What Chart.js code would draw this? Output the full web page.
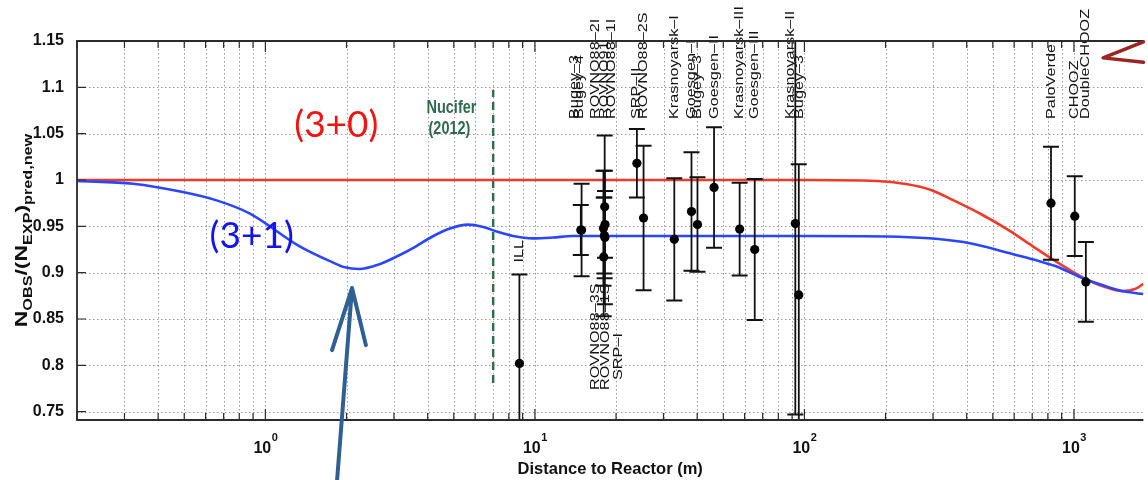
<!DOCTYPE html>
<html>
<head>
<meta charset="utf-8">
<script src="https://cdn.jsdelivr.net/npm/chart.js@4.4.1/dist/chart.umd.min.js"></script>
<style>
  html, body { margin: 0; padding: 0; background: #fff; overflow: hidden; }
  #wrap { width: 1148px; height: 480px; }
</style>
</head>
<body>
<div id="wrap"><canvas id="chart" width="1148" height="480"></canvas></div>
<script>
// reactor experiments: name, baseline (m), ratio, total error
const expNames = ["ILL", "Bugey–4", "Bugey–3", "ROVNO88–2I", "ROVNO91", "ROVNO88–1I",
  "ROVNO88–3S", "ROVNO88–1S", "SRP–I", "SRP–II", "ROVNO88–2S", "Krasnoyarsk–I",
  "Goesgen–I", "Bugey–3", "Goesgen–II", "Krasnoyarsk–III", "Goesgen–III",
  "Krasnoyarsk–II", "Bugey–3", "PaloVerde", "CHOOZ", "DoubleCHOOZ"];
const expDistance = [8.76, 14.8, 14.9, 17.96, 18.1, 18.0, 18.18, 18.15, 18.2, 23.9, 25.3, 32.9,
  38.1, 40.1, 46.2, 57.5, 65.4, 92.5, 95.3, 822, 1007, 1107];
const expRatio = [0.802, 0.946, 0.946, 0.948, 0.940, 0.917, 0.938, 0.971, 0.952, 1.018, 0.959, 0.936,
  0.966, 0.952, 0.992, 0.947, 0.925, 0.953, 0.876, 0.975, 0.961, 0.890];
const expError = [0.096, 0.027, 0.050, 0.062, 0.041, 0.064, 0.072, 0.077, 0.036, 0.037, 0.078, 0.066,
  0.064, 0.051, 0.065, 0.050, 0.076, 0.206, 0.141, 0.061, 0.043, 0.043];

// (3+0) and (3+1) predictions
const curve30Distance = [0.2, 100, 185, 238, 295, 355, 451, 572, 702, 853, 1073, 1272, 1508, 1684, 1810];
const curve30Ratio = [1.0, 1.0, 0.999, 0.9957, 0.9892, 0.9784, 0.9633, 0.946, 0.9287, 0.9125, 0.8952,
  0.8855, 0.8801, 0.8823, 0.888];
const curve31Distance = [0.2, 0.323, 0.494, 0.659, 0.873, 1.335, 1.767, 1.957, 2.223, 2.636, 3.124, 3.61,
  4.136, 4.778, 5.662, 6.433, 7.308, 8.3, 9.84, 11.66, 13.82, 20.3, 100, 202, 389, 592, 720, 853,
  1073, 1272, 1508, 1810];
const curve31Ratio = [0.999, 0.996, 0.987, 0.978, 0.964, 0.9287, 0.9114, 0.906, 0.9039, 0.9088, 0.9185,
  0.9282, 0.9385, 0.9471, 0.9518, 0.9492, 0.9438, 0.9395, 0.937, 0.9379, 0.9395, 0.9395, 0.9395, 0.939,
  0.933, 0.9201, 0.9136, 0.9071, 0.8942, 0.8866, 0.8801, 0.8769];

// Nucifer baseline marker
const nuciferDistance = [7.0, 7.0];
const nuciferRatio = [0.781, 1.097];

const yTickValues = [0.75, 0.8, 0.85, 0.9, 0.95, 1, 1.05, 1.1, 1.15];

const FONT = '"Liberation Sans", Arial, sans-serif';
Chart.defaults.font.family = FONT;

const pts = (xs, ys) => xs.map((v, i) => ({x: v, y: ys[i]}));
const isDecade = v => Math.abs(Math.log10(v) - Math.round(Math.log10(v))) < 1e-9;

function drawRotated(ctx, text, x, y, stretch) {
  ctx.save();
  ctx.translate(x, y);
  ctx.rotate(-Math.PI / 2);
  ctx.scale(stretch, 1);
  ctx.fillText(text, 0, 0);
  ctx.restore();
}

// dotted grid, drawn under the datasets
const dottedGrid = {
  id: 'dottedGrid',
  beforeDatasetsDraw(chart) {
    const {ctx, chartArea: a, scales: {x, y}} = chart;
    ctx.save();
    ctx.strokeStyle = '#9a9a9a';
    ctx.lineWidth = 1;
    ctx.setLineDash([1.5, 2.5]);
    ctx.beginPath();
    y.ticks.forEach(t => {
      const py = Math.round(y.getPixelForValue(t.value)) + 0.5;
      ctx.moveTo(a.left, py); ctx.lineTo(a.right, py);
    });
    x.ticks.forEach(t => {
      const px = Math.round(x.getPixelForValue(t.value)) + 0.5;
      ctx.moveTo(px, a.top); ctx.lineTo(px, a.bottom);
    });
    ctx.stroke();
    ctx.restore();
  }
};

const errorBars = {
  id: 'errorBars',
  beforeDatasetDraw(chart, args) {
    if (args.index !== 0) return;
    const {ctx, chartArea: a, scales: {x, y}} = chart;
    ctx.save();
    ctx.beginPath();
    ctx.rect(a.left, a.top, a.right - a.left, a.bottom - a.top);
    ctx.clip();
    ctx.strokeStyle = '#111';
    expDistance.forEach((d, i) => {
      const px = x.getPixelForValue(d);
      const hi = y.getPixelForValue(expRatio[i] + expError[i]);
      const lo = y.getPixelForValue(expRatio[i] - expError[i]);
      ctx.lineWidth = 1.8;
      ctx.beginPath();
      ctx.moveTo(px, hi); ctx.lineTo(px, lo);
      ctx.stroke();
      ctx.lineWidth = 2;
      ctx.beginPath();
      ctx.moveTo(px - 8, hi); ctx.lineTo(px + 8, hi);
      ctx.moveTo(px - 8, lo); ctx.lineTo(px + 8, lo);
      ctx.stroke();
    });
    ctx.restore();
  }
};

// small shifts for crowded labels
const labelShift = {1: [-1, 0], 2: [-7, 0], 3: [-8, 0], 5: [8, 0], 6: [-9, 0], 7: [1, 0], 8: [13, -10], 17: [-5, 0], 18: [1, 0]};
const bottomLabels = new Set([6, 7, 8]);

const expLabels = {
  id: 'expLabels',
  afterDatasetsDraw(chart) {
    const {ctx, chartArea: a, scales: {x, y}} = chart;
    ctx.save();
    ctx.font = '13px ' + FONT;
    ctx.fillStyle = '#151515';
    ctx.textAlign = 'left';
    ctx.textBaseline = 'middle';
    expNames.forEach((name, i) => {
      const [dx, dy] = labelShift[i] || [0, 0];
      const px = x.getPixelForValue(expDistance[i]) + dx;
      let py;
      if (i === 0) py = y.getPixelForValue(expRatio[i] + expError[i]) - 12;
      else if (bottomLabels.has(i)) py = a.top + 349;
      else py = a.top + 78;
      drawRotated(ctx, name, px, py + dy, 1.25);
    });
    ctx.restore();
  }
};

const frame = {
  id: 'frame',
  afterDraw(chart) {
    const {ctx, chartArea: a, scales: {x, y}} = chart;
    ctx.save();
    ctx.strokeStyle = '#2b2b2b';
    ctx.lineWidth = 1.2;
    ctx.beginPath();
    y.ticks.forEach(t => {
      const py = y.getPixelForValue(t.value);
      ctx.moveTo(a.left, py); ctx.lineTo(a.left + 9, py);
    });
    x.ticks.forEach(t => {
      const px = x.getPixelForValue(t.value);
      const len = isDecade(t.value) ? 11 : 7;
      ctx.moveTo(px, a.bottom); ctx.lineTo(px, a.bottom - len);
      ctx.moveTo(px, a.top); ctx.lineTo(px, a.top + len);
    });
    ctx.stroke();
    ctx.lineWidth = 1.8;
    ctx.beginPath();
    ctx.moveTo(a.right, a.top); ctx.lineTo(a.left, a.top);
    ctx.lineTo(a.left, a.bottom); ctx.lineTo(a.right, a.bottom);
    ctx.stroke();

    // decade labels 10^n with a raised exponent
    ctx.fillStyle = '#111';
    ctx.textBaseline = 'alphabetic';
    ctx.textAlign = 'left';
    x.ticks.filter(t => isDecade(t.value)).forEach(t => {
      const px = x.getPixelForValue(t.value);
      const exp = String(Math.round(Math.log10(t.value)));
      ctx.font = 'bold 16px ' + FONT;
      const wb = ctx.measureText('10').width;
      ctx.font = 'bold 11px ' + FONT;
      const we = ctx.measureText(exp).width;
      const left = px - (wb + we) / 2;
      ctx.font = 'bold 16px ' + FONT;
      ctx.fillText('10', left, a.bottom + 33);
      ctx.font = 'bold 11px ' + FONT;
      ctx.fillText(exp, left + wb + 0.5, a.bottom + 21);
    });
    ctx.restore();
  }
};

const notes = {
  id: 'notes',
  afterDraw(chart) {
    const {ctx, chartArea: a, scales: {x, y}} = chart;
    const P = (d, v) => [x.getPixelForValue(d), y.getPixelForValue(v)];
    ctx.save();

    // y axis title with subscripts
    const segs = [['N', 0], ['OBS', 1], ['/(N', 0], ['EXP', 1], [')', 0], ['pred,new', 1]];
    const big = 'bold 17px ' + FONT, small = 'bold 12px ' + FONT;
    let total = 0;
    segs.forEach(s => { ctx.font = s[1] ? small : big; total += ctx.measureText(s[0]).width; });
    ctx.save();
    ctx.translate(27, (a.top + a.bottom) / 2);
    ctx.rotate(-Math.PI / 2);
    ctx.scale(1.35, 1);
    ctx.fillStyle = '#111';
    ctx.textBaseline = 'alphabetic';
    let cx = -total / 2;
    segs.forEach(s => {
      ctx.font = s[1] ? small : big;
      ctx.fillText(s[0], cx, s[1] ? 5 : 0);
      cx += ctx.measureText(s[0]).width;
    });
    ctx.restore();

    // model labels
    ctx.font = '37px Lato, "Open Sans", sans-serif';
    ctx.textBaseline = 'alphabetic';
    ctx.textAlign = 'left';
    ctx.fillStyle = '#f01414';
    let [tx, ty] = P(1.28, 1.0464);
    ctx.fillText('(3+0)', tx, ty);
    ctx.fillStyle = '#1414f0';
    [tx, ty] = P(0.621, 0.9266);
    ctx.fillText('(3+1)', tx, ty);

    // Nucifer note
    ctx.fillStyle = '#2f6a4e';
    ctx.font = 'bold 14.5px ' + FONT;
    [['Nucifer', 3.96, 1.0724], ['(2012)', 4.03, 1.0497]].forEach(([s, d, v]) => {
      const [nx, ny] = P(d, v);
      ctx.save();
      ctx.translate(nx, ny);
      ctx.scale(1, 1.25);
      ctx.fillText(s, 0, 0);
      ctx.restore();
    });

    // hand-drawn arrows
    ctx.lineCap = 'round';
    ctx.lineJoin = 'round';
    ctx.strokeStyle = '#2f5f93';
    ctx.lineWidth = 4;
    const tip = P(2.096, 0.8834);
    ctx.beginPath();
    ctx.moveTo(...P(1.845, 0.676)); ctx.lineTo(...tip);
    ctx.moveTo(...P(1.767, 0.8164)); ctx.lineTo(...tip); ctx.lineTo(...P(2.36, 0.8218));
    ctx.stroke();

    ctx.strokeStyle = '#9e2424';
    ctx.lineWidth = 3.5;
    ctx.beginPath();
    ctx.moveTo(...P(1810, 1.149)); ctx.lineTo(...P(1283, 1.1318)); ctx.lineTo(...P(1810, 1.127));
    ctx.stroke();
    ctx.restore();
  }
};

new Chart(document.getElementById('chart'), {
  type: 'scatter',
  data: {
    datasets: [
      {
        label: 'reactor data',
        data: pts(expDistance, expRatio),
        pointRadius: 4.6,
        pointBackgroundColor: '#000',
        pointBorderWidth: 0
      },
      {
        label: '(3+1)',
        data: pts(curve31Distance, curve31Ratio),
        showLine: true,
        pointRadius: 0,
        borderColor: '#2a46ff',
        borderWidth: 2.6,
        cubicInterpolationMode: 'monotone'
      },
      {
        label: '(3+0)',
        data: pts(curve30Distance, curve30Ratio),
        showLine: true,
        pointRadius: 0,
        borderColor: '#ee3b2b',
        borderWidth: 2.6,
        cubicInterpolationMode: 'monotone'
      },
      {
        label: 'Nucifer',
        data: pts(nuciferDistance, nuciferRatio),
        showLine: true,
        pointRadius: 0,
        borderColor: '#2f6e4e',
        borderWidth: 2.5,
        borderDash: [8, 5]
      }
    ]
  },
  options: {
    responsive: false,
    devicePixelRatio: 1,
    animation: false,
    layout: {padding: {top: 41, right: 0, left: 0, bottom: 0}},
    plugins: {legend: {display: false}, tooltip: {enabled: false}},
    scales: {
      x: {
        type: 'logarithmic',
        min: 0.2,
        max: 1810,
        afterBuildTicks: scale => {
          const ticks = [];
          for (let e = -1; e <= 3; e++) {
            for (let m = 1; m <= 9; m++) {
              const v = Number((m * Math.pow(10, e)).toPrecision(6));
              if (v >= scale.min && v <= scale.max) ticks.push({value: v});
            }
          }
          scale.ticks = ticks;
        },
        afterFit: scale => { scale.height = 60; },
        ticks: {
          autoSkip: false,
          maxRotation: 0,
          callback: () => ''
        },
        grid: {display: false},
        border: {display: false},
        title: {
          display: true,
          text: 'Distance to Reactor (m)',
          color: '#111',
          font: {size: 16.5, weight: 'bold'},
          padding: {top: 0, bottom: 1}
        }
      },
      y: {
        min: 0.741,
        max: 1.15,
        afterBuildTicks: scale => { scale.ticks = yTickValues.map(v => ({value: v})); },
        afterFit: scale => { scale.width = 77; },
        ticks: {
          padding: 5,
          color: '#111',
          font: {size: 16, weight: 'bold'},
          callback: v => String(v)
        },
        grid: {display: false},
        border: {display: false}
      }
    }
  },
  plugins: [dottedGrid, errorBars, expLabels, frame, notes]
});
</script>
</body>
</html>
